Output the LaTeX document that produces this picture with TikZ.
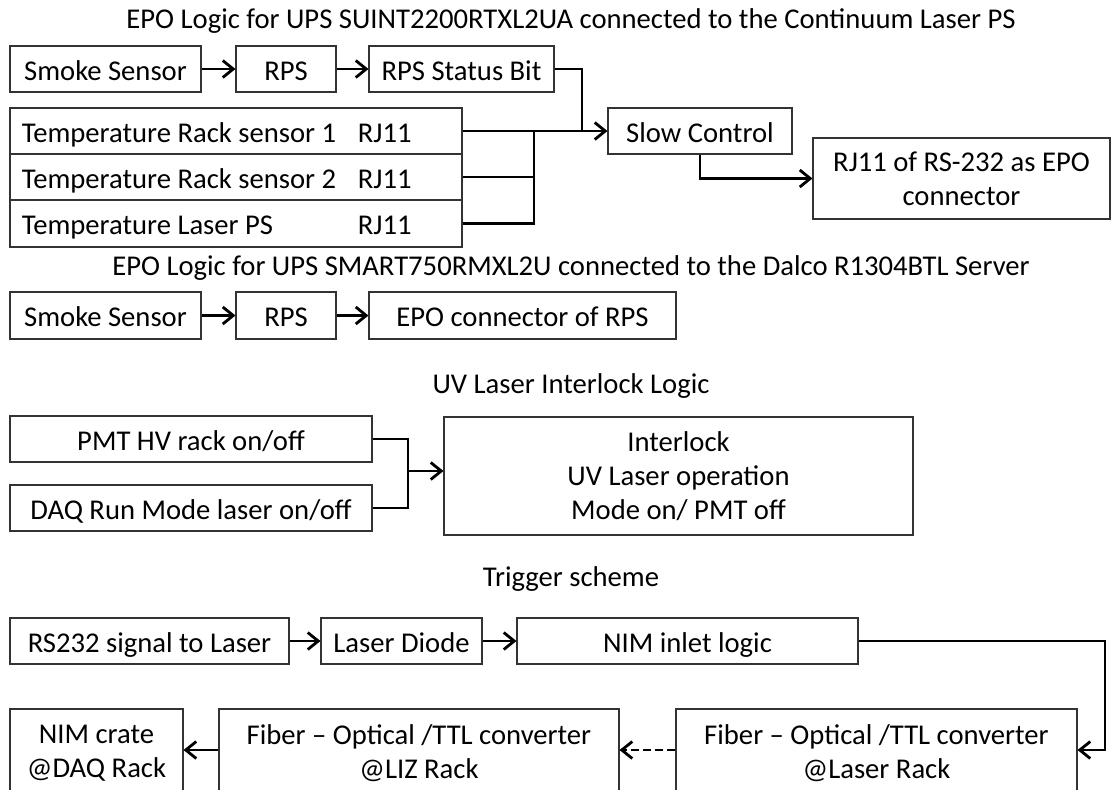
\documentclass[tikz,border=0pt]{standalone}
\usepackage{fontspec}
\setmainfont{Carlito}
\usetikzlibrary{arrows.meta}

\begin{document}
\begin{tikzpicture}[x=0.02cm, y=-0.02cm,
    every node/.style={font=\fontsize{16.3}{19.4}\selectfont},
    tallbox/.style={draw=black!80, line width=0.6pt, inner sep=0pt, align=center},
    box/.style={tallbox, text height=0.56cm, text depth=0.12cm},
    rowtext/.style={anchor=west, inner sep=0pt, text height=0.56cm, text depth=0.12cm},
    link/.style={line width=1.6pt},
    arr/.style={link, -{Straight Barb[length=2.1mm, width=3.4mm]}}]
    % variables
    \def\px{0.02cm}

    \useasboundingbox (0,0) rectangle (1111,789);

    % Titles
    \node[anchor=base] (titleA) at (571,28) {EPO Logic for UPS SUINT2200RTXL2UA connected to the Continuum Laser PS};
    \node[anchor=base] (titleB) at (571,275) {EPO Logic for UPS SMART750RMXL2U connected to the Dalco R1304BTL Server};
    \node[anchor=base] (titleC) at (571,393) {UV Laser Interlock Logic};
    \node[anchor=base] (titleD) at (571,586) {Trigger scheme};

    % EPO logic, Continuum laser PS
    \node[box, minimum width=191*\px, minimum height=46*\px] (smokeA) at (105.5,69) {Smoke Sensor};
    \node[box, minimum width=100*\px, minimum height=46*\px] (rpsA) at (286,69) {RPS};
    \node[box, minimum width=185*\px, minimum height=46*\px] (statusA) at (461.5,69) {RPS Status Bit};
    \node[box, minimum width=452*\px, minimum height=46*\px] (tempA) at (236,131) {};
    \node[box, minimum width=452*\px, minimum height=46*\px] (tempB) at (236,177) {};
    \node[box, minimum width=452*\px, minimum height=47*\px] (tempC) at (236,223.5) {};
    \node[rowtext] (tempAname) at ([xshift=12*\px]tempA.west) {Temperature Rack sensor 1};
    \node[rowtext] (tempBname) at ([xshift=12*\px]tempB.west) {Temperature Rack sensor 2};
    \node[rowtext] (tempCname) at ([xshift=12*\px]tempC.west) {Temperature Laser PS};
    \node[rowtext] (tempAport) at ([xshift=348*\px]tempA.west) {RJ11};
    \node[rowtext] (tempBport) at ([xshift=348*\px]tempB.west) {RJ11};
    \node[rowtext] (tempCport) at ([xshift=348*\px]tempC.west) {RJ11};
    \node[box, minimum width=184*\px, minimum height=46*\px] (slowctrl) at (700,131) {Slow Control};
    \node[tallbox, minimum width=297*\px, minimum height=81*\px] (rjepo) at (961.5,178.5) {RJ11 of RS-232 as EPO\\connector};

    \coordinate (joinA) at (582,131);
    \coordinate (busA) at (534,131);
    \draw[arr] (smokeA) -- (rpsA);
    \draw[arr] (rpsA) -- (statusA);
    \draw[link] (statusA.east) -| (joinA);
    \draw[arr] (tempA.east) -- (slowctrl.west);
    \draw[link] (tempB.east) -| (busA);
    \draw[link] (tempC.east) -| (busA);
    \draw[arr] (slowctrl.south) |- (rjepo.west);

    % EPO logic, Dalco server
    \node[box, minimum width=191*\px, minimum height=47*\px] (smokeB) at (105.5,315.5) {Smoke Sensor};
    \node[box, minimum width=100*\px, minimum height=47*\px] (rpsB) at (286,315.5) {RPS};
    \node[box, minimum width=307*\px, minimum height=47*\px] (epoB) at (522.5,315.5) {EPO connector of RPS};
    \draw[arr] (smokeB) -- (rpsB);
    \draw[arr] (rpsB) -- (epoB);

    % UV laser interlock
    \node[box, minimum width=362*\px, minimum height=46*\px] (pmt) at (191,439) {PMT HV rack on/off};
    \node[box, minimum width=362*\px, minimum height=46*\px] (daq) at (191,508) {DAQ Run Mode laser on/off};
    \node[tallbox, minimum width=469*\px, minimum height=118*\px] (interlock) at (678.5,476) {Interlock\\UV Laser operation\\Mode on/ PMT off};

    \coordinate (joinB) at (408,471);
    \draw[link] (pmt.east) -| (joinB);
    \draw[link] (daq.east) -| (joinB);
    \draw[arr] (joinB) -- (joinB -| interlock.west);

    % Trigger scheme
    \node[box, minimum width=279*\px, minimum height=46*\px] (rsline) at (149.5,641) {RS232 signal to Laser};
    \node[box, minimum width=161*\px, minimum height=46*\px] (diode) at (401.5,641) {Laser Diode};
    \node[box, minimum width=341*\px, minimum height=46*\px] (niminlet) at (687.5,641) {NIM inlet logic};
    \node[tallbox, minimum width=173*\px, minimum height=88*\px] (crate) at (96.5,753) {NIM crate\\@DAQ Rack};
    \node[tallbox, minimum width=400*\px, minimum height=88*\px] (lizconv) at (419,753) {Fiber – Optical /TTL converter\\@LIZ Rack};
    \node[tallbox, minimum width=401*\px, minimum height=88*\px] (laserconv) at (876.5,753) {Fiber – Optical /TTL converter\\@Laser Rack};

    \coordinate (turnC) at (1105,750);
    \draw[arr] (rsline) -- (diode);
    \draw[arr] (diode) -- (niminlet);
    \draw[arr] (niminlet.east) -| (turnC) -- (turnC -| laserconv.east);
    \draw[arr, dash pattern=on 0.16cm off 0.08cm] (laserconv.west |- turnC) -- (lizconv.east |- turnC);
    \draw[arr] (lizconv.west |- turnC) -- (crate.east |- turnC);
\end{tikzpicture}
\end{document}
